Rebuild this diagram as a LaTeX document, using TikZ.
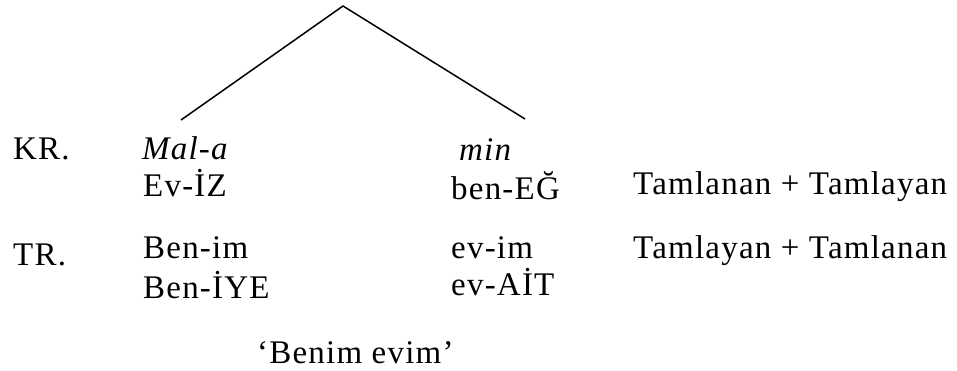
\documentclass[tikz,border=0pt]{standalone}
\usepackage{fontspec}
\setmainfont[LetterSpace=3.7]{Liberation Serif}
\begin{document}
\begin{tikzpicture}[x=1pt,y=-1pt,
  lbl/.style={anchor=base west,inner sep=0pt,font=\fontsize{33}{38}\selectfont},
  branch/.style={line width=1.5pt}]
\useasboundingbox (0,0) rectangle (957,371);
\coordinate (top) at (343,6);
\coordinate (lend) at (181,120);
\coordinate (rend) at (525,119);
\draw[branch] (lend) -- (top) -- (rend);
\node[lbl] (kr) at (13,160) {KR.};
\node[lbl] (mala) at (142,160) {\textit{Mal-a}};
\node[lbl] (eviz) at (143,197) {Ev-İZ};
\node[lbl] (min) at (459,161) {\textit{min}};
\node[lbl] (beneg) at (451,200) {ben-EĞ};
\node[lbl] (tt1) at (633,195) {Tamlanan + Tamlayan};
\node[lbl] (tr) at (13,265) {TR.};
\node[lbl] (benim) at (143,258) {Ben-im};
\node[lbl] (beniye) at (143,298) {Ben-İYE};
\node[lbl] (evim) at (451,258) {ev-im};
\node[lbl] (evait) at (451,295) {ev-AİT};
\node[lbl] (tt2) at (633,258) {Tamlayan + Tamlanan};
\node[lbl] (gloss) at (257,363) {‘Benim evim’};
\end{tikzpicture}
\end{document}
